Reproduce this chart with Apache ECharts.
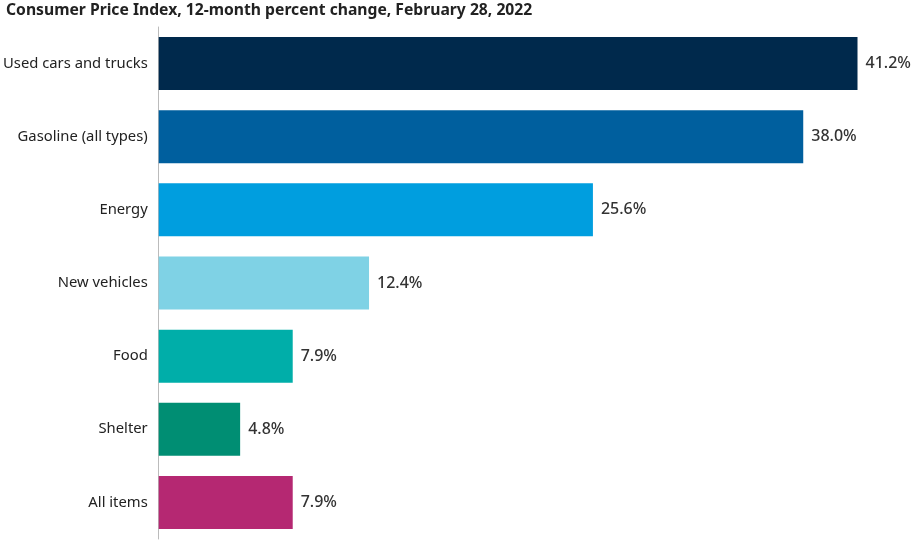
<!DOCTYPE html>
<html><head><meta charset="utf-8">
<script src="https://cdn.jsdelivr.net/npm/echarts@6/dist/echarts.min.js"></script>
<style>html,body{margin:0;padding:0;background:#fff}#c{width:916px;height:540px}</style>
</head><body><div id="c"></div>
<script>
const categories = ["Used cars and trucks","Gasoline (all types)","Energy","New vehicles","Food","Shelter","All items"];
const values = [41.2, 38.0, 25.6, 12.4, 7.9, 4.8, 7.9];
const colors = ["#00294c","#005f9e","#009edf","#7fd2e5","#00aea9","#008e73","#b52872"];

const chart = echarts.init(document.getElementById('c'), null, {renderer:'canvas'});
chart.setOption({
  animation:false,
  backgroundColor:'#fff',
  title:{text:'Consumer Price Index, 12-month percent change, February 28, 2022',left:1,top:-2,
    textStyle:{fontFamily:'Noto Sans',fontWeight:'bold',fontSize:15.7,color:'#222'}},
  grid:{left:157,top:27,width:748,height:512,containLabel:false},
  xAxis:{type:'value',min:0,max:44,show:false},
  yAxis:{type:'category',inverse:true,data:categories,
    axisLine:{show:true,lineStyle:{color:'#bbbbbb',width:1}},
    axisTick:{show:false},
    axisLabel:{margin:11,fontFamily:'Noto Sans',fontSize:14.8,color:'#222'}},
  series:[{type:'bar',barCategoryGap:'27.5%',
    data:values.map((v,i)=>({value:v,itemStyle:{color:colors[i]}})),
    label:{show:true,position:'right',distance:8,fontFamily:'Noto Sans',fontWeight:500,fontSize:16,color:'#333',
      formatter:p=>p.value.toFixed(1)+'%'}}]
});
</script></body></html>
